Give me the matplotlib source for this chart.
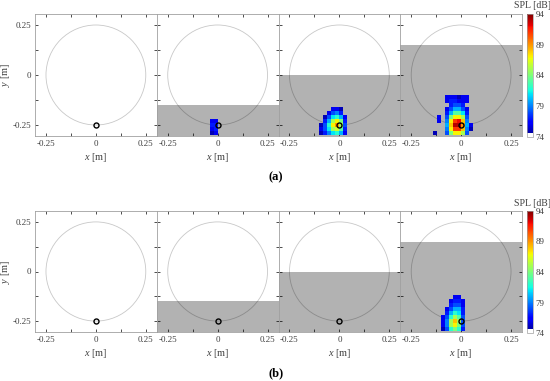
import numpy as np
import matplotlib.pyplot as plt
from matplotlib.colors import ListedColormap

plt.rcParams['font.family'] = ['Liberation Serif', 'DejaVu Serif']
plt.rcParams['mathtext.fontset'] = 'custom'
plt.rcParams['mathtext.it'] = 'Liberation Serif:italic'
plt.rcParams['mathtext.rm'] = 'Liberation Serif'

# --- datos ---
R = 0.25                       # radio del recinto [m]
src = (0.0, -0.25)             # fuente
niveles = [None, -0.15, 0.0, 0.15]   # nivel de llenado por panel
celda = 0.02                   # tamaño de celda del mapa SPL [m]
spl_min, spl_max = 74, 94
spl_ticks = [74, 79, 84, 89, 94]
etiquetas = ['(a)', '(b)']

# mapas SPL: (borde izq., borde sup., matriz filas arriba->abajo), 0 = sin dato
spl_a2 = (-0.04, -0.22, [[76, 76],
                          [77, 77],
                          [76, 77],
                          [75, 76]])
spl_a3 = (-0.10, -0.16, [[0, 0, 0, 76, 76, 75, 0],
                          [0, 0, 76, 78, 79, 77, 0],
                          [0, 75, 78, 81, 82, 80, 76],
                          [0, 77, 80, 85, 87, 84, 77],
                          [75, 78, 82, 87, 89, 85, 78],
                          [76, 78, 81, 85, 86, 83, 77],
                          [75, 77, 79, 81, 82, 80, 76]])
spl_a4 = (-0.14, -0.10, [[0, 0, 0, 76, 76, 76, 75, 76, 76, 0],
                          [0, 0, 0, 76, 77, 77, 76, 76, 76, 0],
                          [0, 0, 0, 0, 77, 78, 78, 77, 0, 0],
                          [0, 0, 0, 76, 78, 80, 80, 78, 76, 0],
                          [0, 0, 0, 77, 80, 83, 83, 81, 77, 0],
                          [0, 76, 0, 78, 84, 87, 87, 85, 78, 0],
                          [0, 76, 0, 79, 87, 91, 92, 88, 79, 0],
                          [0, 0, 0, 80, 88, 93, 93, 89, 80, 76],
                          [0, 0, 0, 79, 87, 91, 91, 88, 79, 75],
                          [75, 0, 0, 78, 84, 87, 87, 85, 78, 0]])
spl_b4 = (-0.10, -0.12, [[0, 0, 0, 76, 76, 0],
                          [0, 0, 76, 77, 77, 76],
                          [0, 0, 77, 78, 78, 76],
                          [0, 76, 78, 80, 80, 77],
                          [0, 77, 80, 82, 81, 77],
                          [76, 78, 82, 85, 83, 78],
                          [76, 79, 85, 88, 85, 78],
                          [76, 79, 85, 87, 84, 78],
                          [75, 78, 82, 84, 82, 77]])
mapas = [[None, spl_a2, spl_a3, spl_a4],
         [None, None, None, spl_b4]]

# colormap jet con blanco en el extremo inferior
colores = plt.get_cmap('jet')(np.linspace(0, 1, 256))
colores[:9] = [1, 1, 1, 1]
cmap = ListedColormap(colores)

W, H = 550, 381
fig = plt.figure(figsize=(W / 100, H / 100), dpi=100)

lim = 0.305
gris = '#404040'
fila_top = [14, 211]
fila_bot = [136, 332]
x0_pix, x1_pix = 35, 522
ancho = (x1_pix - x0_pix) / 4

for f in range(2):
    top, bot = fila_top[f], fila_bot[f]
    for p in range(4):
        ax = fig.add_axes([(x0_pix + p * ancho) / W, 1 - bot / H,
                           ancho / W, (bot - top) / H])
        ax.set_xlim(-lim, lim)
        ax.set_ylim(-lim, lim)
        ax.add_patch(plt.Circle((0, 0), R, fill=False, ec='#c8c8c8', lw=0.6, zorder=1))
        if niveles[p] is not None:
            ax.fill_between([-lim, lim], -lim, niveles[p], color='k', alpha=0.3,
                            lw=0, zorder=2)
        m = mapas[f][p]
        if m is not None:
            xl, yt, vals = m
            vals = np.ma.masked_equal(np.array(vals, dtype=float), 0)
            nr, nc = vals.shape
            xe = xl + celda * np.arange(nc + 1)
            ye = yt - celda * np.arange(nr + 1)
            ax.pcolormesh(xe, ye, vals, cmap=cmap, vmin=spl_min, vmax=spl_max,
                          zorder=3)
        ax.plot(*src, 'o', ms=3.6, mfc='none', mec='k', mew=1.0, zorder=4)

        ax.set_xticks([-0.25, 0, 0.25])
        ax.set_xticklabels(['-0.25', '0', '0.25'])
        ax.set_yticks([-0.25, 0, 0.25])
        ax.set_yticklabels(['-0.25', '0', '0.25'])
        ax.set_xticks([-0.125, 0.125], minor=True)
        ax.set_yticks([-0.125, 0.125], minor=True)
        ax.tick_params(which='both', direction='in', length=2, width=0.6,
                       top=True, right=True, labelsize=6.5, colors='#303030',
                       labelcolor=gris, pad=3)
        for s in ax.spines.values():
            s.set_color('#a0a0a0')
            s.set_linewidth(0.6)
        ax.set_xlabel('$x$ [m]', fontsize=7.5, color=gris, labelpad=2)
        if p == 0:
            ax.set_ylabel('$y$ [m]', fontsize=7.5, color=gris)
            ax.yaxis.set_label_coords(-0.19, 0.5)
        else:
            ax.set_yticklabels([])

    # barra de color
    cax = fig.add_axes([527 / W, 1 - (bot + 1) / H, 6 / W, (bot + 1 - top) / H])
    sm = plt.cm.ScalarMappable(cmap=cmap, norm=plt.Normalize(spl_min, spl_max))
    cb = fig.colorbar(sm, cax=cax, ticks=spl_ticks)
    cb.ax.tick_params(length=0, labelsize=6.5, labelcolor=gris, pad=2)
    cb.outline.set_color('#a0a0a0')
    cb.outline.set_linewidth(0.5)
    fig.text(532 / W, 1 - (top - 8) / H, 'SPL [dB]', fontsize=7, color=gris,
             ha='center', va='center')
    fig.text(276 / W, 1 - (bot + 41) / H, etiquetas[f], fontsize=9,
             fontweight='bold', ha='center', va='center', color='k')

fig.savefig('out.png', dpi=100)
